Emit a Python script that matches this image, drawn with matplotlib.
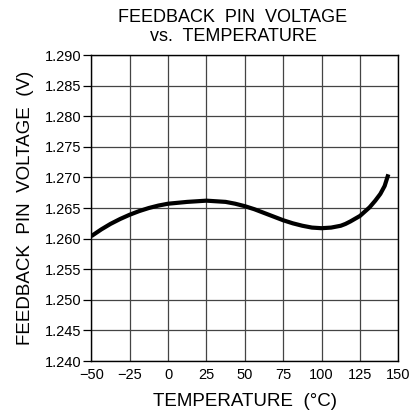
import matplotlib
matplotlib.use("Agg")
import matplotlib.pyplot as plt

temperature = [-50, -43.5, -37.5, -31.25, -25, -18.75, -12.5, -6.25, 0,
               12.5, 25, 31.25, 37.5, 43.75, 50, 56.25, 62.5, 68.75, 75,
               81.25, 87.5, 93.75, 100, 106.25, 112.5, 115.6, 118.75, 125,
               131.25, 135, 138.3, 141.1, 143.5]
voltage = [1.2604, 1.2615, 1.2624, 1.2632, 1.2639, 1.2645, 1.2650, 1.2654,
           1.2657, 1.2660, 1.2662, 1.2661, 1.2660, 1.2657, 1.2653, 1.2648,
           1.2642, 1.2636, 1.2630, 1.2625, 1.2621, 1.2618, 1.2617, 1.2618,
           1.2621, 1.2624, 1.2628, 1.2637, 1.2651, 1.2662, 1.2673, 1.2686,
           1.2705]

x_ticks = [-50, -25, 0, 25, 50, 75, 100, 125, 150]
y_ticks = [1.240, 1.245, 1.250, 1.255, 1.260, 1.265, 1.270, 1.275,
           1.280, 1.285, 1.290]

plt.rcParams["font.family"] = ["Liberation Sans", "DejaVu Sans"]

fig = plt.figure(figsize=(4.11, 4.13), dpi=100)
ax = fig.add_axes([0.2221, 0.1259, 0.747, 0.7409])

ax.plot(temperature, voltage, color="black", linewidth=3,
        solid_capstyle="butt", solid_joinstyle="round")

ax.set_xlim(-50, 150)
ax.set_ylim(1.240, 1.290)
ax.set_xticks(x_ticks)
ax.set_yticks(y_ticks)
ax.set_xticklabels([str(t).replace("-", "\u2212") for t in x_ticks])
ax.set_yticklabels(["%.3f" % v for v in y_ticks])
ax.grid(True, color="#444444", linewidth=0.9)
ax.tick_params(axis="x", length=0, pad=5, labelsize=10.5)
ax.tick_params(axis="y", length=6, width=0.9, pad=1, labelsize=10.5)
for s in ax.spines.values():
    s.set_linewidth(1.0)

ax.set_xlabel("TEMPERATURE  (°C)", fontsize=13.5, labelpad=8)
ax.set_ylabel("FEEDBACK  PIN  VOLTAGE  (V)", fontsize=13.5, labelpad=8)
fig.text(0.567, 0.979, "FEEDBACK  PIN  VOLTAGE\nvs.  TEMPERATURE",
         ha="center", va="top", fontsize=13, linespacing=1.2)

fig.savefig("out.png", dpi=100)
